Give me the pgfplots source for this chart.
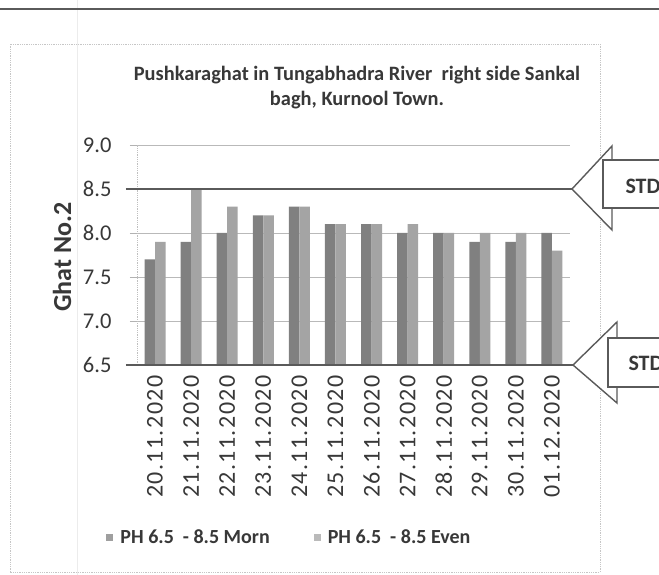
\documentclass[border=0pt]{standalone}
\usepackage{fontspec}
\setmainfont{Carlito}
\newfontfamily\xtickfont[LetterSpace=6]{Carlito}
\usepackage{pgfplots}
\pgfplotsset{compat=1.18}
\definecolor{morn}{HTML}{808080}
\definecolor{even}{HTML}{A4A4A4}
\definecolor{txt}{HTML}{383838}
\definecolor{stdline}{HTML}{5A5A5A}
\begin{document}
\begin{tikzpicture}[x=1pt,y=1pt]
\path[use as bounding box] (0,0) rectangle (659,575);
\fill[white] (0,0) rectangle (659,575);
\draw[gray!15, line width=0.6pt] (77,0) -- (77,575);
\draw[stdline, line width=1.4pt] (0,566) -- (659,566);
\draw[gray!45, densely dotted, line width=0.8pt] (10,3) rectangle (600,531);
\node[font=\bfseries\fontsize{20.4}{25}\selectfont, text=txt, align=center] at (357,487.5)
  {Pushkaraghat in Tungabhadra River~ right side Sankal\\bagh, Kurnool Town.};
\node[font=\bfseries\fontsize{26}{28}\selectfont, text=txt, rotate=90] at (62,318) {Ghat No.2};
\begin{axis}[
  at={(137pt,210pt)}, anchor=south west, scale only axis,
  width=433pt, height=220pt,
  xmin=-0.5, xmax=11.5, ymin=6.5, ymax=9.0,
  ybar=0pt, bar width=10.5pt,
  axis x line*=bottom, axis y line*=left,
  x axis line style={draw=none},
  y axis line style={gray!50, densely dotted, line width=0.8pt},
  ymajorgrids, major grid style={gray!55, line width=0.9pt},
  ytick={6.5,7.0,7.5,8.0,8.5,9.0},
  yticklabel style={/pgf/number format/fixed, /pgf/number format/fixed zerofill, /pgf/number format/precision=1, /pgf/number format/assume math mode=true, font=\fontsize{22.5}{24}\selectfont, text=txt, xshift=-15pt},
  tick align=outside, major tick length=7pt,
  ytick style={gray!60, line width=0.8pt},
  xtick={0,...,11}, xtick style={draw=none},
  xticklabels={20.11.2020,21.11.2020,22.11.2020,23.11.2020,24.11.2020,25.11.2020,26.11.2020,27.11.2020,28.11.2020,29.11.2020,30.11.2020,01.12.2020},
  xticklabel style={rotate=90, anchor=east, font=\xtickfont\fontsize{24}{26}\selectfont, text=txt},
  clip=false,
  legend columns=2,
  legend style={draw=none, fill=none, at={(0.352,-0.782)}, anchor=center,
    font=\bfseries\fontsize{20}{22}\selectfont, text=txt,
    /tikz/every odd column/.append style={column sep=5pt},
    /tikz/every even column/.append style={column sep=42pt}},
  legend image code/.code={\fill[#1, fill opacity=0.75] (0pt,-3.5pt) rectangle (7pt,3.5pt);},
]
\addplot[fill=morn, draw=none] coordinates {(0,7.7) (1,7.9) (2,8.0) (3,8.2) (4,8.3) (5,8.1) (6,8.1) (7,8.0) (8,8.0) (9,7.9) (10,7.9) (11,8.0)};
\addplot[fill=even, draw=none] coordinates {(0,7.9) (1,8.5) (2,8.3) (3,8.2) (4,8.3) (5,8.1) (6,8.1) (7,8.1) (8,8.0) (9,8.0) (10,8.0) (11,7.8)};
\legend{PH 6.5~ - 8.5 Morn, PH 6.5~ - 8.5 Even}
\draw[stdline, line width=1.8pt] (axis cs:-0.805,8.5) -- (axis cs:11.56,8.5);
\draw[stdline, line width=1.8pt] (axis cs:-0.805,6.5) -- (axis cs:11.58,6.5);
\end{axis}
% upper STD callout
\fill[white] (612,429) -- (572,386) -- (612,345) -- cycle;
\draw[stdline, line width=1.4pt, fill=white] (603,367) rectangle (700,415);
\draw[stdline, line width=1.4pt, line join=miter] (612,415) -- (612,429) -- (572,386) -- (612,345) -- (612,367);
\node[font=\bfseries\fontsize{22}{24}\selectfont, text=txt, anchor=west] at (622,389) {STD};
% lower STD callout
\fill[white] (617,253) -- (573,210) -- (617,172) -- cycle;
\draw[stdline, line width=1.4pt, fill=white] (608,188) rectangle (700,237);
\draw[stdline, line width=1.4pt, line join=miter] (617,237) -- (617,253) -- (573,210) -- (617,172) -- (617,188);
\node[font=\bfseries\fontsize{22}{24}\selectfont, text=txt, anchor=west] at (625,212) {STD};
\end{tikzpicture}
\end{document}
